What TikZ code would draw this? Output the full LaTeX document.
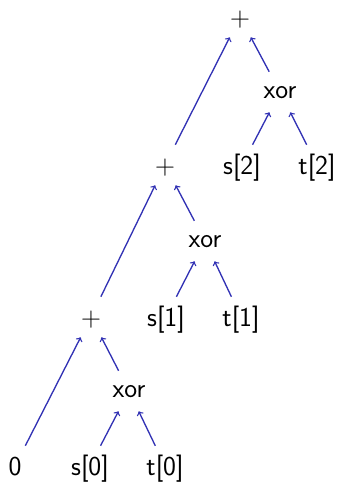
\documentclass[tikz,border=0pt]{standalone}
\begin{document}
\begin{tikzpicture}[x=0.75pt,y=-0.75pt,
  lbl/.style={font=\sffamily\fontsize{20.5}{24}\selectfont, text height=14pt, text depth=0.5pt, inner sep=7.75pt},
  xorlbl/.style={lbl, text height=11.75pt, text depth=2.75pt},
  edge/.style={->, draw={rgb,255:red,50;green,50;blue,180}, line width=1pt}]
\useasboundingbox (0,0) rectangle (340,482);
\node[lbl] (p2) at (240,17) {$+$};
\node[xorlbl] (x2) at (280,92) {xor};
\node[lbl] (s2) at (242,165) {s[2]};
\node[lbl] (t2) at (317,165) {t[2]};
\node[lbl] (p1) at (165,165) {$+$};
\node[xorlbl] (x1) at (205,241) {xor};
\node[lbl] (s1) at (166,317) {s[1]};
\node[lbl] (t1) at (241,317) {t[1]};
\node[lbl] (p0) at (91,317) {$+$};
\node[xorlbl] (x0) at (129,391) {xor};
\node[lbl] (z) at (15,466) {0};
\node[lbl] (s0) at (90,466) {s[0]};
\node[lbl] (t0) at (165,466) {t[0]};
\draw[edge] (p1) -- (p2);
\draw[edge] (x2) -- (p2);
\draw[edge] (s2) -- (x2);
\draw[edge] (t2) -- (x2);
\draw[edge] (p0) -- (p1);
\draw[edge] (x1) -- (p1);
\draw[edge] (s1) -- (x1);
\draw[edge] (t1) -- (x1);
\draw[edge] (z) -- (p0);
\draw[edge] (x0) -- (p0);
\draw[edge] (s0) -- (x0);
\draw[edge] (t0) -- (x0);
\end{tikzpicture}
\end{document}
